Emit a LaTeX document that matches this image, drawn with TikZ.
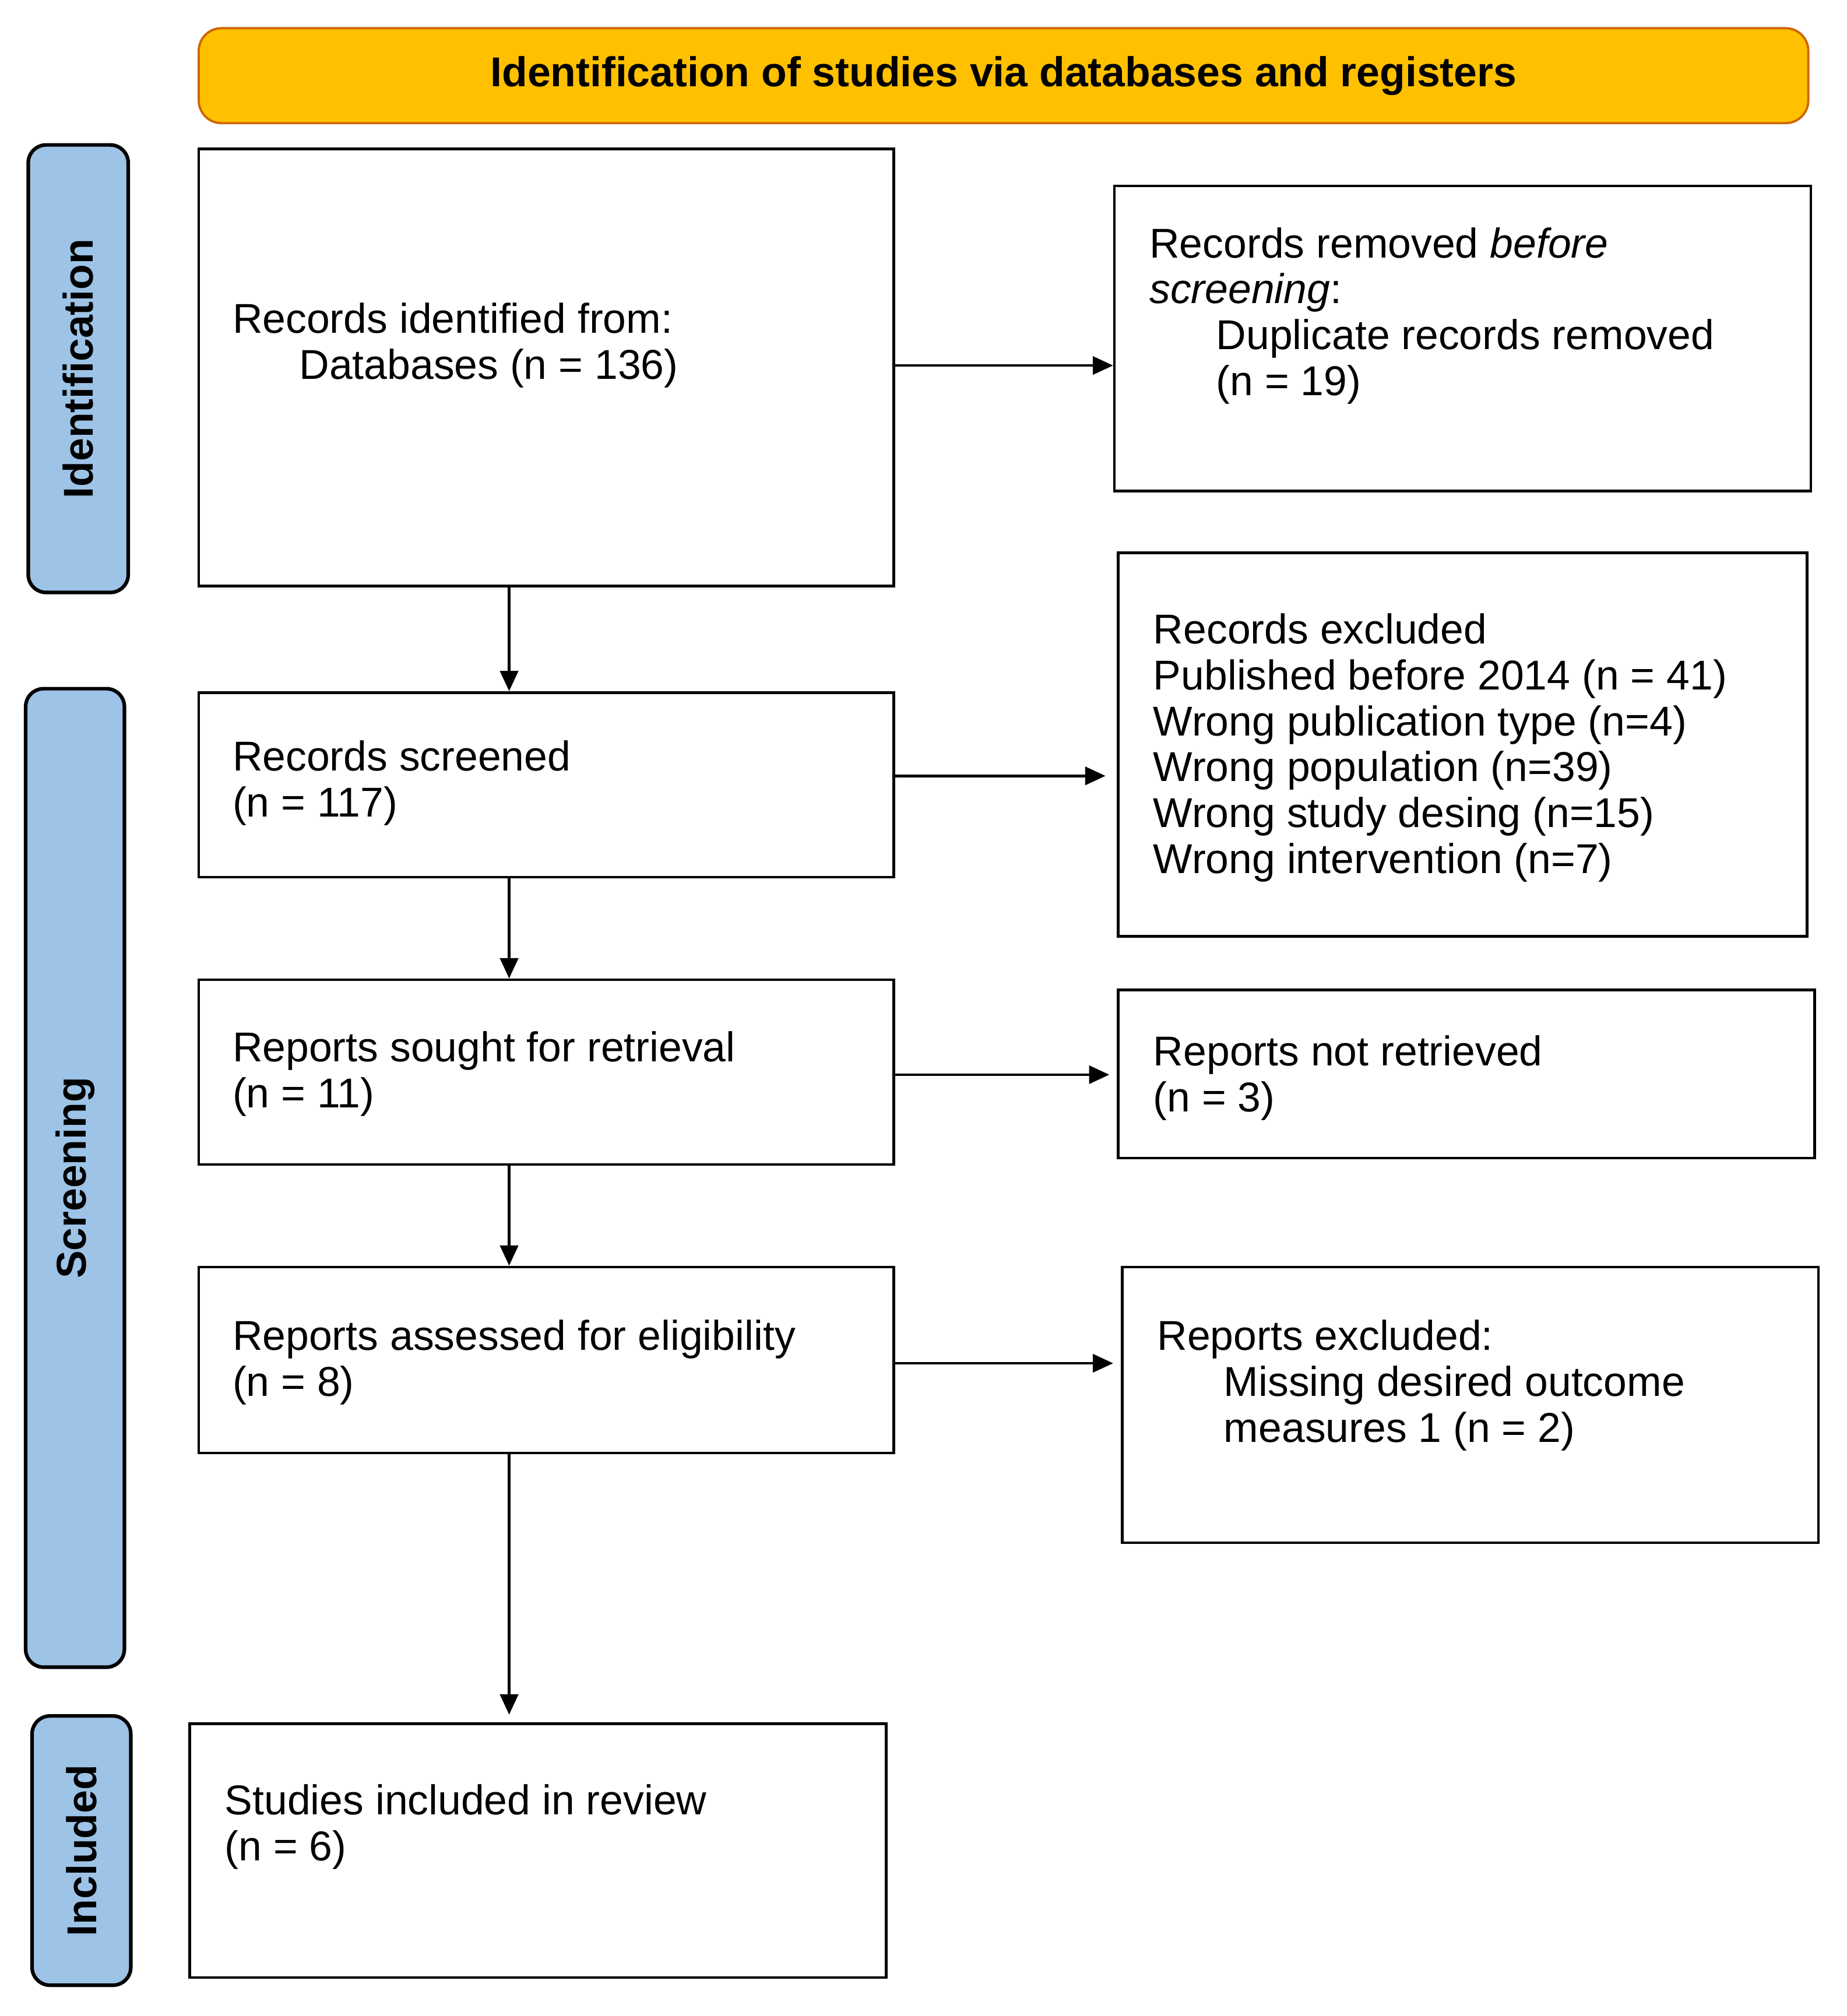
\documentclass[tikz,border=0pt]{standalone}
\usepackage{fontspec}
\setmainfont{Liberation Sans}
\usetikzlibrary{fit,arrows.meta}
\begin{document}
\begin{tikzpicture}[x=0.02cm,y=-0.02cm,
  box/.style={draw,line width=1.2pt,inner sep=0pt,rectangle},
  side/.style={draw,line width=1.6pt,fill=sidebl,rounded corners=8pt,inner sep=0pt},
  txt/.style={anchor=north west,align=left,inner sep=0pt,font=\fontsize{18.5}{20.4}\selectfont},
  arr/.style={-{Triangle[length=9pt,width=8pt]},line width=1.2pt}]
\definecolor{sidebl}{HTML}{9DC3E6}
\definecolor{hdr}{HTML}{FFC000}
\useasboundingbox (0,0) rectangle (1440,1572);
\node[draw=orange!80!black,line width=1pt,fill=hdr,rounded corners=10pt,inner sep=0pt,fit={(155,22)(1410,96)}] (hd) {};
\node[font=\fontsize{18.5}{20}\selectfont\bfseries] (hdt) at (hd.center) {Identification of studies via databases and registers};
\node[side,fit={(22,113)(100,462)}] (s1) {};
\node[side,fit={(20,537)(97,1300)}] (s2) {};
\node[side,fit={(25,1338)(102,1548)}] (s3) {};
\node[rotate=90,font=\fontsize{18.5}{20}\selectfont\bfseries] (s1t) at (s1.center) {Identification};
\node[rotate=90,font=\fontsize{18.5}{20}\selectfont\bfseries] (s2t) at (s2.center) {Screening};
\node[rotate=90,font=\fontsize{18.5}{20}\selectfont\bfseries] (s3t) at (s3.center) {Included};
\node[box,fit={(155,116)(697,457)}] (a) {};
\node[box,fit={(155,540)(697,684)}] (b) {};
\node[box,fit={(155,764)(697,908)}] (c) {};
\node[box,fit={(155,988)(697,1133)}] (d) {};
\node[box,fit={(148,1344)(691,1542)}] (e) {};
\node[box,fit={(869,145)(1412,383)}] (r1) {};
\node[box,fit={(872,431)(1409,730)}] (r2) {};
\node[box,fit={(872,772)(1415,903)}] (r3) {};
\node[box,fit={(875,988)(1418,1203)}] (r4) {};
\node[txt] (at) at (181,236) {Records identified from:\\\hspace*{1.04cm}Databases (n = 136)};
\node[txt] (bt) at (181,577) {Records screened\\(n = 117)};
\node[txt] (ct) at (181,804) {Reports sought for retrieval\\(n = 11)};
\node[txt] (dt) at (181,1029) {Reports assessed for eligibility\\(n = 8)};
\node[txt] (et) at (175,1391) {Studies included in review\\(n = 6)};
\node[txt] (r1t) at (896,177) {Records removed \textit{before}\\\textit{screening}:\\\hspace*{1.04cm}Duplicate records removed\\\hspace*{1.04cm}(n = 19)};
\node[txt] (r2t) at (899,478) {Records excluded\\Published before 2014 (n = 41)\\Wrong publication type (n=4)\\Wrong population (n=39)\\Wrong study desing (n=15)\\Wrong intervention (n=7)};
\node[txt] (r3t) at (899,807) {Reports not retrieved\\(n = 3)};
\node[txt] (r4t) at (902,1029) {Reports excluded:\\\hspace*{1.04cm}Missing desired outcome\\\hspace*{1.04cm}measures 1 (n = 2)};
\draw[arr] (a.east|-0,285) -- (r1.west|-0,285);
\draw[arr] (b.east|-0,605) -- (862,605);
\draw[arr] (c.east|-0,838) -- (865,838);
\draw[arr] (d.east|-0,1063) -- (868,1063);
\draw[arr] (a.south-|397,0) -- (b.north-|397,0);
\draw[arr] (b.south-|397,0) -- (c.north-|397,0);
\draw[arr] (c.south-|397,0) -- (d.north-|397,0);
\draw[arr] (d.south-|397,0) -- (397,1337);
\end{tikzpicture}
\end{document}
